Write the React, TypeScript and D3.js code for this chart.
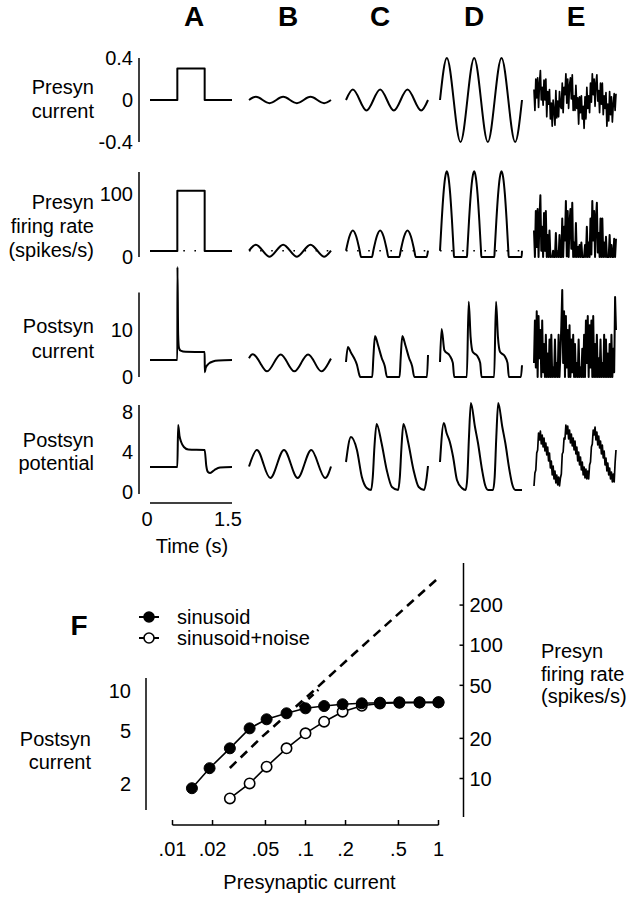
import React from "react";
import * as d3 from "d3";

type Pt = [number, number];

// ---------------- labels ----------------
const columnLetters = ["A", "B", "C", "D", "E"];
const rowTitles = [
  ["Presyn", "current"],
  ["Presyn", "firing rate", "(spikes/s)"],
  ["Postsyn", "current"],
  ["Postsyn", "potential"],
];
const rowTickValues = [[0.4, 0, -0.4], [100, 0], [10, 0], [8, 4, 0]];
const rowTickLabels = [["0.4", "0", "-0.4"], ["100", "0"], ["10", "0"], ["8", "4", "0"]];
const rowDomains: [number, number][] = [[-0.4, 0.4], [0, 100], [0, 10], [0, 8]];
const rowAxisExtent: [number, number][] = [[-0.4, 0.4], [0, 135], [0, 18], [-0.2, 8.7]];
const baselineRate = 10;
const timeDomain: [number, number] = [0, 1.5];
const timeBarLabels = ["0", "1.5"];
const timeTitle = "Time (s)";

// ---------------- row 1 : presynaptic current ----------------
const currentA: Pt[] = [[0, 0], [0.5, 0], [0.5, 0.3], [1.0, 0.3], [1.0, 0], [1.5, 0]];
const currentB: Pt[] = [[0, 0], [0.125, 0.03], [0.25, 0], [0.375, -0.03], [0.5, 0], [0.625, 0.03], [0.75, 0], [0.875, -0.03], [1, 0], [1.125, 0.03], [1.25, 0], [1.375, -0.03], [1.5, 0]];
const currentC: Pt[] = [[0, 0], [0.125, 0.1], [0.25, 0], [0.375, -0.1], [0.5, 0], [0.625, 0.1], [0.75, 0], [0.875, -0.1], [1, 0], [1.125, 0.1], [1.25, 0], [1.375, -0.1], [1.5, 0]];
const currentD: Pt[] = [[0, 0], [0.125, 0.4], [0.25, 0], [0.375, -0.4], [0.5, 0], [0.625, 0.4], [0.75, 0], [0.875, -0.4], [1, 0], [1.125, 0.4], [1.25, 0], [1.375, -0.4], [1.5, 0]];
const currentE: number[] = [
  0.10, -0.10, 0.20, 0.02, 0.21, -0.07, 0.16, 0.28, 0, 0.12, -0.05, 0.19, 0, 0.20, -0.16, 0.08, -0.04, 0.10, -0.18, -0.03, -0.25, 0, -0.10, -0.24, 0.09, -0.17, -0.01, -0.16, 0.08, -0.06,
  -0.08, 0.16, -0.12, 0.12, 0.05, 0.25, -0.03, 0.20, -0.08, 0.14, 0.21, 0.01, 0.24, -0.10, 0.04, -0.10, 0.14, -0.08, 0.02, -0.23, 0.03, -0.12, 0.04, -0.18, -0.06, -0.27, 0.03, -0.18, 0.12, -0.08,
  0.04, -0.12, 0.16, -0.02, 0.25, 0.05, 0.20, -0.06, 0.16, 0.24, -0.01, 0.09, -0.12, 0.16, -0.04, 0.16, -0.14, 0.04, -0.08, 0.07, -0.25, -0.04, -0.20, 0.08, -0.14, 0.03, -0.21, -0.04, 0.06, -0.10, 0.06,
];

// ---------------- row 2 : presynaptic firing rate ----------------
const rateA: Pt[] = [[0, 9.5], [0.5, 9.5], [0.5, 105], [1, 105], [1, 9.5], [1.5, 9.5]];
const rateB: Pt[] = [[0, 10], [0.125, 19.5], [0.25, 10], [0.375, 0.5], [0.5, 10], [0.625, 19.5], [0.75, 10], [0.875, 0.5], [1, 10], [1.125, 19.5], [1.25, 10], [1.375, 0.5], [1.5, 10]];
const rateC: Pt[] = [
  [0, 10], [0.0625, 32.6], [0.125, 42], [0.1875, 32.6], [0.25, 10], [0.275, 0], [0.475, 0],
  [0.5, 10], [0.5625, 32.6], [0.625, 42], [0.6875, 32.6], [0.75, 10], [0.775, 0], [0.975, 0],
  [1.0, 10], [1.0625, 32.6], [1.125, 42], [1.1875, 32.6], [1.25, 10], [1.275, 0], [1.475, 0], [1.5, 10],
];
const rateD: Pt[] = [
  [0, 10], [0.031, 58], [0.0625, 99], [0.094, 126], [0.125, 136], [0.156, 126], [0.1875, 99], [0.219, 58], [0.25, 10], [0.256, 0], [0.494, 0],
  [0.5, 10], [0.531, 58], [0.5625, 99], [0.594, 126], [0.625, 136], [0.656, 126], [0.6875, 99], [0.719, 58], [0.75, 10], [0.756, 0], [0.994, 0],
  [1.0, 10], [1.031, 58], [1.0625, 99], [1.094, 126], [1.125, 136], [1.156, 126], [1.1875, 99], [1.219, 58], [1.25, 10], [1.256, 0], [1.494, 0], [1.5, 10],
];
const rateE: number[] = [
  42, 0, 73, 16, 76, 0, 61, 98, 10, 48, 0, 70, 10, 73, 0, 35, 0, 42, 0, 1, 0, 10, 0, 0, 38, 0, 7, 0, 35, 0,
  0, 61, 0, 48, 26, 89, 1, 73, 0, 54, 76, 13, 86, 0, 23, 0, 54, 0, 16, 0, 19, 0, 23, 0, 0, 0, 19, 0, 48, 0,
  23, 0, 61, 4, 89, 26, 73, 0, 61, 86, 7, 38, 0, 61, 0, 61, 0, 23, 0, 32, 0, 0, 0, 35, 0, 19, 0, 0, 29, 0, 29,
];

// ---------------- row 3 : postsynaptic current ----------------
const postA: Pt[] = [[0, 3.6], [0.5, 3.6], [0.502, 23.4], [0.515, 9], [0.53, 6.2], [0.56, 5.6], [0.65, 5.35], [1.0, 5.3], [1.002, 1.0], [1.02, 2.0], [1.08, 2.9], [1.15, 3.3], [1.25, 3.5], [1.5, 3.6]];
const postB: Pt[] = [[0, 4.0], [0.08, 4.8], [0.205, 3.0], [0.33, 1.2], [0.455, 3.0], [0.58, 4.8], [0.705, 3.0], [0.83, 1.2], [0.955, 3.0], [1.08, 4.8], [1.205, 3.0], [1.33, 1.2], [1.455, 3.0], [1.5, 3.9]];
const postC: Pt[] = [
  [0, 3.2], [0.035, 6.4], [0.09, 5.2], [0.15, 4.0], [0.2, 2.6], [0.245, 0.4], [0.26, 0], [0.48, 0],
  [0.5, 4.0], [0.53, 8.7], [0.585, 6.8], [0.655, 4.0], [0.71, 2.3], [0.75, 0], [0.98, 0],
  [1.0, 4.0], [1.03, 8.7], [1.085, 6.8], [1.155, 4.0], [1.21, 2.3], [1.25, 0], [1.48, 0], [1.5, 4.7],
];
const postD: Pt[] = [
  [0, 3.2], [0.03, 10.2], [0.08, 5.7], [0.18, 4.5], [0.235, 3.0], [0.26, 0], [0.49, 0],
  [0.525, 16], [0.56, 8.5], [0.6, 5.3], [0.68, 4.5], [0.735, 3.0], [0.76, 0], [0.99, 0],
  [1.025, 16], [1.06, 8.5], [1.1, 5.3], [1.18, 4.5], [1.235, 3.0], [1.26, 0], [1.48, 0], [1.5, 2.5],
];
const postE: number[] = [
  3, 12, 2, 14, 0, 13, 4, 10, 0, 12, 1, 7, 0, 9, 0, 5, 0, 8, 0, 9,
  0, 2, 0, 8, 0, 3, 0, 9, 0, 5, 11, 18.5, 3, 14, 0, 13, 2, 10, 0, 11,
  0, 8, 1, 9, 0, 7, 0, 3, 0, 8, 0, 2, 0, 6, 0, 9, 0, 12, 3, 13,
  0, 11, 2, 12, 0, 13, 0, 7, 0, 9, 0, 4, 0, 8, 0, 3, 0, 9, 0, 8,
  0, 5, 0, 7, 0, 9, 0, 6, 1, 17, 10,
];

// ---------------- row 4 : postsynaptic potential ----------------
const vmA: Pt[] = [[0, 2.5], [0.5, 2.5], [0.515, 6.7], [0.54, 5.6], [0.57, 5.0], [0.62, 4.5], [0.7, 4.25], [1.0, 4.2], [1.03, 2.6], [1.06, 2.0], [1.1, 1.9], [1.18, 2.2], [1.28, 2.45], [1.5, 2.5]];
const vmB: Pt[] = [[0, 2.55], [0.14, 4.2], [0.265, 2.8], [0.39, 1.4], [0.515, 2.8], [0.64, 4.2], [0.765, 2.8], [0.89, 1.4], [1.015, 2.8], [1.14, 4.2], [1.265, 2.8], [1.39, 1.4], [1.5, 2.55]];
const vmC: Pt[] = [
  [0, 3.0], [0.09, 5.5], [0.2, 4.2], [0.29, 1.5], [0.38, 0.4], [0.46, 0.2],
  [0.49, 1.5], [0.52, 4.5], [0.56, 6.8], [0.65, 4.9], [0.745, 2.2], [0.84, 0.5], [0.955, 0.2],
  [0.985, 1.5], [1.015, 4.5], [1.05, 6.8], [1.14, 4.9], [1.235, 2.2], [1.33, 0.5], [1.43, 0.2], [1.47, 1.2], [1.5, 2.6],
];
const vmD: Pt[] = [
  [0, 3.0], [0.07, 6.9], [0.12, 5.9], [0.18, 5.0], [0.24, 3.5], [0.31, 1.2], [0.4, 0.4], [0.47, 0.2],
  [0.5, 1.5], [0.53, 5.5], [0.565, 8.9], [0.64, 6.5], [0.695, 4.9], [0.77, 2.2], [0.825, 0.7], [0.88, 0.2], [0.97, 0.2],
  [1.0, 1.5], [1.03, 5.5], [1.065, 8.9], [1.14, 6.5], [1.195, 4.9], [1.27, 2.2], [1.325, 0.7], [1.38, 0.2], [1.5, 0.2],
];
const vmE: number[] = [
  0.6, 1.9, 2.2, 3.9, 4.2, 5.9, 5.2, 6.1, 4.8, 5.7, 4.5, 5.4, 4.1, 4.9, 3.7, 4.5, 3.1, 3.9, 2.4, 3.1,
  1.7, 2.6, 1.3, 2.1, 0.9, 1.7, 0.7, 1.5, 0.6, 1.4, 1.8, 3.8, 4.0, 5.4, 5.3, 6.7, 5.8, 6.6, 5.3, 6.2,
  4.9, 5.8, 4.6, 5.4, 4.2, 5.1, 3.8, 4.5, 3.1, 4.0, 2.7, 3.5, 2.2, 3.0, 1.7, 2.5, 1.4, 2.3, 1.3, 2.1,
  1.3, 2.7, 3.0, 4.5, 4.8, 6.2, 5.7, 6.5, 5.2, 6.0, 4.7, 5.6, 4.4, 5.1, 3.8, 4.7, 3.4, 4.1, 2.7, 3.4,
  2.1, 2.9, 1.7, 2.4, 1.3, 2.0, 1.0, 1.8, 1.0, 2.9, 4.2,
];

// ---------------- panel F ----------------
const fLegend = ["sinusoid", "sinusoid+noise"];
const fCurrentSin = [0.014, 0.019, 0.027, 0.038, 0.051, 0.072, 0.1, 0.138, 0.19, 0.265, 0.363, 0.508, 0.72, 1.0];
const fPostSin = [1.86, 2.63, 3.71, 5.24, 6.13, 6.8, 7.41, 7.71, 7.95, 8.08, 8.17, 8.22, 8.22, 8.22];
const fCurrentNoise = [0.027, 0.038, 0.051, 0.072, 0.1, 0.138, 0.19, 0.265, 0.363, 0.508, 0.72, 1.0];
const fPostNoise = [1.56, 2.02, 2.7, 3.71, 4.81, 5.88, 6.99, 7.75, 8.05, 8.15, 8.2, 8.22];
const fRateCurrent = [0.027, 0.047, 0.113, 0.235, 1.0];
const fRate = [12, 20.5, 44.8, 87.5, 320];
const fRate2Current = [0.09, 0.125];
const fRate2 = [34.4, 46.3];
const fXTicks = [0.01, 0.02, 0.05, 0.1, 0.2, 0.5, 1];
const fXTickLabels = [".01", ".02", ".05", ".1", ".2", ".5", "1"];
const fLeftTicks = [10, 5, 2];
const fRightTicks = [200, 100, 50, 20, 10];
const fLeftTitle = ["Postsyn", "current"];
const fRightTitle = ["Presyn", "firing rate", "(spikes/s)"];
const fXTitle = "Presynaptic current";

// ---------------- layout (positions only) ----------------
const colX0 = [150, 249, 346, 440, 534];
const colW = 82;
const rowRanges: [number, number][] = [[142, 58], [257, 194], [377, 330], [492, 412]];
const rowTitleBaselines = [[94, 118], [209, 233, 257], [333, 358], [447, 470]];
const letterX = [194, 288, 380, 474, 576];
const curveNames = [
  ["linear", "natural", "natural", "natural", "linear"],
  ["linear", "natural", "monotone", "monotone", "linear"],
  ["monotone", "natural", "monotone", "monotone", "linear"],
  ["monotone", "natural", "monotone", "monotone", "linear"],
];
const noisyWidths = [1.7, 2.0, 2.0, 1.7];

const FONT = "'Liberation Sans', Arial, Helvetica, sans-serif";

function curveOf(name: string) {
  if (name === "natural") return d3.curveNatural;
  if (name === "monotone") return d3.curveMonotoneX;
  return d3.curveLinear;
}

function indexed(vals: number[]): Pt[] {
  const step = (timeDomain[1] - timeDomain[0]) / (vals.length - 1);
  return vals.map((v, i) => [timeDomain[0] + i * step, v] as Pt);
}

export default function App() {
  const rows: Pt[][][] = [
    [currentA, currentB, currentC, currentD, indexed(currentE)],
    [rateA, rateB, rateC, rateD, indexed(rateE)],
    [postA, postB, postC, postD, indexed(postE)],
    [vmA, vmB, vmC, vmD, indexed(vmE)],
  ];
  const yScales = rowDomains.map((dom, r) => d3.scaleLinear().domain(dom).range(rowRanges[r]));
  const xScales = colX0.map((x0) => d3.scaleLinear().domain(timeDomain).range([x0, x0 + colW]));
  const axisX = 139;

  // panel F scales
  const fx = d3.scaleLog().domain([0.01, 1]).range([172.5, 438.5]);
  const fyL = d3.scaleLog().domain([1, 10]).range([824.1, 691]);
  const fyR = d3.scaleLog().domain([10, 100]).range([778.5, 645.2]);
  const lineL = d3.line<[number, number]>().x((d) => fx(d[0])).y((d) => fyL(d[1]));
  const lineR = d3.line<[number, number]>().x((d) => fx(d[0])).y((d) => fyR(d[1]));
  const sinPts = fCurrentSin.map((c, i) => [c, fPostSin[i]] as [number, number]);
  const noisePts = fCurrentNoise.map((c, i) => [c, fPostNoise[i]] as [number, number]);
  const ratePts = fRateCurrent.map((c, i) => [c, fRate[i]] as [number, number]);
  const rate2Pts = fRate2Current.map((c, i) => [c, fRate2[i]] as [number, number]);

  const tb = xScales[0];

  return (
    <svg width={632} height={899} style={{ position: "absolute", left: 0, top: 0 }} fontFamily={FONT}>
      <rect x={0} y={0} width={632} height={899} fill="#fff" />
      {columnLetters.map((L, i) => (
        <text key={L} x={letterX[i]} y={26} textAnchor="middle" fontWeight="bold" fontSize={28}>{L}</text>
      ))}
      {rows.map((row, r) => {
        const ys = yScales[r];
        return (
          <g key={"row" + r}>
            {rowTitles[r].map((t, k) => (
              <text key={k} x={94} y={rowTitleBaselines[r][k]} textAnchor="end" fontSize={20}>{t}</text>
            ))}
            <line x1={axisX} x2={axisX} y1={ys(rowAxisExtent[r][0])} y2={ys(rowAxisExtent[r][1])} stroke="#000" strokeWidth={1.5} />
            {rowTickValues[r].map((v, k) => (
              <text key={k} x={133} y={ys(v)} dy="0.36em" textAnchor="end" fontSize={20}>{rowTickLabels[r][k]}</text>
            ))}
            {r === 1 && xScales.map((xs, c) => (
              <line key={"dot" + c} x1={xs(timeDomain[0])} x2={xs(timeDomain[1])} y1={ys(baselineRate)} y2={ys(baselineRate)}
                stroke="#000" strokeWidth={1.6} strokeDasharray="1.6,9.5" />
            ))}
            {row.map((pts, c) => {
              const xs = xScales[c];
              const gen = d3.line<Pt>().x((d) => xs(d[0])).y((d) => ys(d[1])).curve(curveOf(curveNames[r][c]));
              return (
                <path key={c} d={gen(pts) || ""} fill="none" stroke="#000"
                  strokeWidth={c === 4 ? noisyWidths[r] : 2} strokeLinejoin="round" />
              );
            })}
          </g>
        );
      })}
      {/* time scale bar */}
      <line x1={tb(timeDomain[0])} x2={tb(timeDomain[1])} y1={503} y2={503} stroke="#000" strokeWidth={1.5} />
      <text x={tb(timeDomain[0]) - 3} y={526} textAnchor="middle" fontSize={20}>{timeBarLabels[0]}</text>
      <text x={tb(timeDomain[1]) - 4} y={526} textAnchor="middle" fontSize={20}>{timeBarLabels[1]}</text>
      <text x={192} y={553} textAnchor="middle" fontSize={20}>{timeTitle}</text>

      {/* panel F */}
      <text x={79} y={635} textAnchor="middle" fontWeight="bold" fontSize={28}>F</text>
      {fLegend.map((t, i) => {
        const y = 617 + i * 21;
        return (
          <g key={t}>
            <line x1={139} x2={159} y1={y} y2={y} stroke="#000" strokeWidth={2} />
            <circle cx={149} cy={y} r={5} fill={i === 0 ? "#000" : "#fff"} stroke="#000" strokeWidth={1.6} />
            <text x={177} y={y + 6.5} fontSize={20}>{t}</text>
          </g>
        );
      })}
      {/* left axis */}
      <line x1={146} x2={146} y1={678} y2={810} stroke="#000" strokeWidth={1.5} />
      {fLeftTicks.map((v) => (
        <text key={v} x={131} y={fyL(v)} dy="0.36em" textAnchor="end" fontSize={20}>{String(v)}</text>
      ))}
      {fLeftTitle.map((t, k) => (
        <text key={t} x={91} y={746 + k * 23} textAnchor="end" fontSize={20}>{t}</text>
      ))}
      {/* right axis */}
      <line x1={463.5} x2={463.5} y1={563} y2={817} stroke="#000" strokeWidth={1.5} />
      {fRightTicks.map((v) => (
        <g key={v}>
          <line x1={459.5} x2={463.5} y1={fyR(v)} y2={fyR(v)} stroke="#000" strokeWidth={1.5} />
          <text x={469.5} y={fyR(v)} dy="0.36em" fontSize={20}>{String(v)}</text>
        </g>
      ))}
      {fRightTitle.map((t, k) => (
        <text key={t} x={541} y={658 + k * 22.5} fontSize={20}>{t}</text>
      ))}
      {/* bottom axis */}
      <line x1={fx(0.01)} x2={fx(1)} y1={825} y2={825} stroke="#000" strokeWidth={1.5} />
      {fXTicks.map((v, k) => (
        <g key={v}>
          <line x1={fx(v)} x2={fx(v)} y1={825} y2={820} stroke="#000" strokeWidth={1.5} />
          <text x={fx(v)} y={856} textAnchor="middle" fontSize={20}>{fXTickLabels[k]}</text>
        </g>
      ))}
      <text x={309.5} y={889} textAnchor="middle" fontSize={20}>{fXTitle}</text>
      {/* dashed firing-rate curves */}
      <path d={lineR(ratePts) || ""} fill="none" stroke="#000" strokeWidth={2.6} strokeDasharray="9,6" />
      <path d={lineR(rate2Pts) || ""} fill="none" stroke="#000" strokeWidth={2.6} strokeDasharray="7,5" />
      {/* sinusoid + noise (open) */}
      <path d={lineL(noisePts) || ""} fill="none" stroke="#000" strokeWidth={1.6} />
      {noisePts.map((p, i) => (
        <circle key={"o" + i} cx={fx(p[0])} cy={fyL(p[1])} r={5.2} fill="#fff" stroke="#000" strokeWidth={1.6} />
      ))}
      {/* sinusoid (filled) */}
      <path d={lineL(sinPts) || ""} fill="none" stroke="#000" strokeWidth={1.6} />
      {sinPts.map((p, i) => (
        <circle key={"f" + i} cx={fx(p[0])} cy={fyL(p[1])} r={5.5} fill="#000" stroke="#000" strokeWidth={1} />
      ))}
    </svg>
  );
}
